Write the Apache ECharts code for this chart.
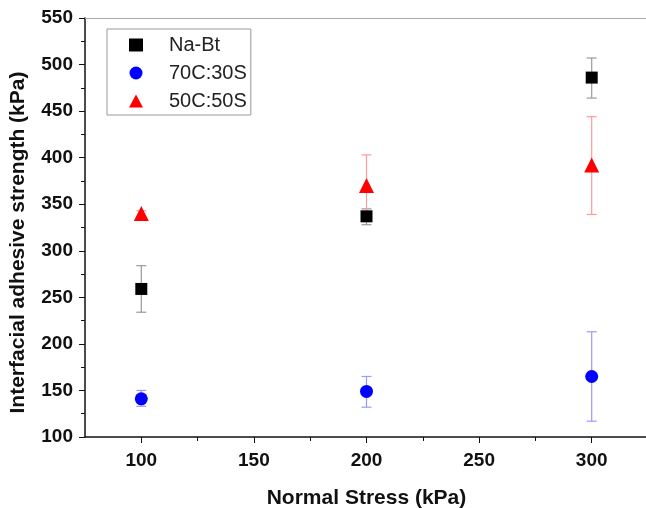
<!DOCTYPE html>
<html>
<head>
<meta charset="utf-8">
<script src="https://cdn.jsdelivr.net/npm/echarts@6/dist/echarts.min.js"></script>
<style>
  html, body { margin: 0; padding: 0; background: #fff; }
  #chart { width: 646px; height: 508px; }
</style>
</head>
<body>
<div id="chart"></div>
<script>
var stress = [100, 200, 300]
var xTicks = [100, 150, 200, 250, 300]
var xMinor = [125, 175, 225, 275]

var naBt = [259, 337, 486]
var naBtLow = [234, 328, 464]
var naBtHigh = [284, 345, 507]

var c70 = [141, 149, 165]
var c70Low = [133, 132, 117]
var c70High = [150, 165, 213]

var c50 = [340, 370, 392]
var c50Low = [336, 338, 339]
var c50High = [343, 403, 444]

var font = 'Liberation Sans, Arial, sans-serif'

function pts(vals) {
  return stress.map(function (x, i) { return [x, vals[i]] })
}

function bars(lo, hi) {
  return stress.map(function (x, i) { return [x, lo[i], hi[i]] })
}

function errorBar(color) {
  return function (params, api) {
    var x = api.value(0)
    var lo = api.coord([x, api.value(1)])
    var hi = api.coord([x, api.value(2)])
    var w = 5
    var style = { stroke: color, lineWidth: 1.2 }
    return {
      type: 'group',
      children: [
        { type: 'line', shape: { x1: hi[0], y1: hi[1], x2: lo[0], y2: lo[1] }, style: style },
        { type: 'line', shape: { x1: hi[0] - w, y1: hi[1], x2: hi[0] + w, y2: hi[1] }, style: style },
        { type: 'line', shape: { x1: lo[0] - w, y1: lo[1], x2: lo[0] + w, y2: lo[1] }, style: style }
      ]
    }
  }
}

var myChart = echarts.init(document.getElementById('chart'))
var option = {
  animation: false,
  grid: { left: 85, right: -2, top: 18, bottom: 71, outerBoundsMode: 'none', containLabel: false },
  legend: {
    orient: 'vertical',
    left: 107,
    top: 29,
    padding: [6, 4, 4, 22],
    itemGap: 8,
    itemWidth: 14,
    itemHeight: 13,
    borderColor: '#999',
    borderWidth: 1,
    textStyle: { fontFamily: font, fontSize: 20, color: '#222', padding: [0, 0, 0, 21] },
    data: ['Na-Bt', '70C:30S', '50C:50S']
  },
  xAxis: [{
    type: 'value',
    min: 75,
    max: 325,
    interval: 25,
    name: 'Normal Stress (kPa)',
    nameLocation: 'middle',
    nameGap: 51,
    nameTextStyle: { fontFamily: font, fontSize: 21, fontWeight: 'bold', color: '#111' },
    axisLine: { lineStyle: { color: '#111', width: 1.5 } },
    axisTick: { inside: false, length: 6, customValues: xTicks, lineStyle: { color: '#111' } },
    axisLabel: {
      fontFamily: font, fontSize: 19, fontWeight: 'bold', color: '#111', margin: 14,
      customValues: xTicks
    },
    splitLine: { show: false }
  }, {
    type: 'value',
    position: 'top',
    min: 75,
    max: 325,
    axisLine: { show: true, lineStyle: { color: '#aaa', width: 1.2 } },
    axisTick: { show: false },
    axisLabel: { show: false },
    splitLine: { show: false }
  }, {
    type: 'value',
    position: 'bottom',
    min: 75,
    max: 325,
    axisLine: { show: false },
    axisTick: { show: true, length: 4, customValues: xMinor, lineStyle: { color: '#111' } },
    axisLabel: { show: false },
    splitLine: { show: false }
  }],
  yAxis: {
    type: 'value',
    min: 100,
    max: 550,
    interval: 50,
    name: 'Interfacial adhesive strength (kPa)',
    nameLocation: 'middle',
    nameGap: 56,
    nameTextStyle: { fontFamily: font, fontSize: 21, fontWeight: 'bold', color: '#111', padding: [0, 30, 0, 0] },
    axisLine: { show: true, lineStyle: { color: '#111', width: 1.5 } },
    axisTick: { inside: false, length: 6, lineStyle: { color: '#111' } },
    minorTick: { show: true, splitNumber: 2, length: 4, lineStyle: { color: '#111' } },
    axisLabel: { fontFamily: font, fontSize: 19, fontWeight: 'bold', color: '#111', margin: 12 },
    splitLine: { show: false }
  },
  series: [{
    type: 'custom',
    renderItem: errorBar('#999'),
    data: bars(naBtLow, naBtHigh),
    z: 1
  }, {
    type: 'custom',
    renderItem: errorBar('#9a9aff'),
    data: bars(c70Low, c70High),
    z: 1
  }, {
    type: 'custom',
    renderItem: errorBar('#ff9a9a'),
    data: bars(c50Low, c50High),
    z: 1
  }, {
    name: 'Na-Bt',
    type: 'scatter',
    symbol: 'rect',
    symbolSize: 12,
    itemStyle: { color: '#000', opacity: 1 },
    data: pts(naBt),
    z: 3
  }, {
    name: '70C:30S',
    type: 'scatter',
    symbol: 'circle',
    symbolSize: 13,
    itemStyle: { color: '#0000ff', opacity: 1 },
    data: pts(c70),
    z: 3
  }, {
    name: '50C:50S',
    type: 'scatter',
    symbol: 'triangle',
    symbolSize: 15,
    itemStyle: { color: '#ff0000', opacity: 1 },
    data: pts(c50),
    z: 3
  }]
}
myChart.setOption(option)
</script>
</body>
</html>
